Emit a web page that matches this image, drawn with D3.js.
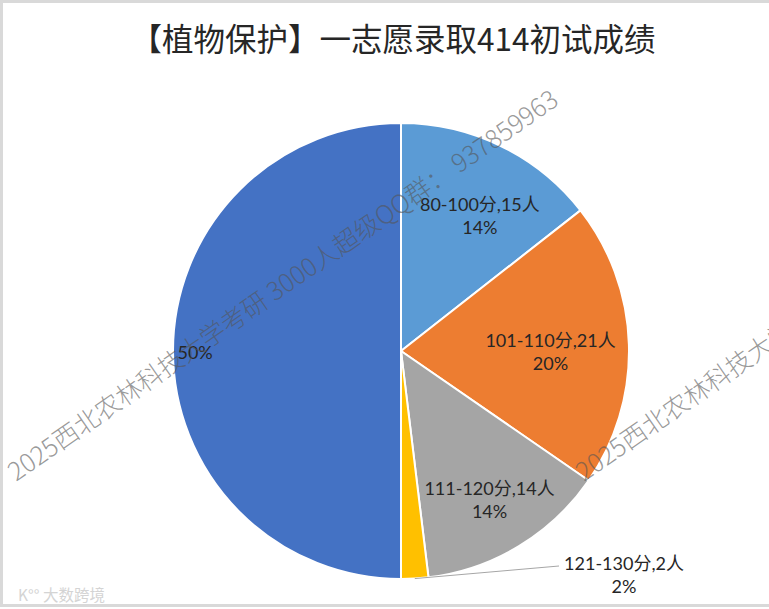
<!DOCTYPE html>
<html>
<head>
<meta charset="utf-8">
<script src="https://cdn.jsdelivr.net/npm/d3@7"></script>
<style>
  html, body { margin: 0; padding: 0; background: #fff; }
  svg { display: block; }
</style>
</head>
<body>
<svg id="chart" width="769" height="609"></svg>
<script>
// ---- data ----
const title = "【植物保护】一志愿录取414初试成绩";
const categories = ["80-100分", "101-110分", "111-120分", "121-130分", ""];
const counts = [15, 21, 14, 2, 52];
const countLabels = ["15人", "21人", "14人", "2人", ""];
const pctLabels = ["14%", "20%", "14%", "2%", "50%"];
const watermarkText = "2025西北农林科技大学考研 3000人超级QQ群： 937859963";

// ---- style / layout ----
const W = 769, H = 609;
const colors = ["#5B9BD5", "#ED7D31", "#A5A5A5", "#FFC000", "#4472C4"];
const cx = 401, cy = 351, R = 228;
const fontCJK = "'Noto Sans CJK SC', 'Noto Sans', sans-serif";
const fontLabel = "Lato, 'Noto Sans CJK SC', sans-serif";

const svg = d3.select("#chart");

// border
svg.append("rect").attr("x", 1.5).attr("y", 1.5).attr("width", W + 5).attr("height", 604)
  .attr("fill", "#fff").attr("stroke", "#d9d9d9").attr("stroke-width", 3);

// title
svg.append("text").attr("x", 393).attr("y", 51)
  .attr("text-anchor", "middle")
  .attr("font-family", fontCJK).attr("font-size", 31.5).attr("fill", "#262626")
  .text(title);

const data = categories.map((c, i) => ({ cat: c, value: counts[i], cnt: countLabels[i], pct: pctLabels[i], i }));

const pie = d3.pie().value(d => d.value).sort(null);
const arcs = pie(data);
const arc = d3.arc().innerRadius(0).outerRadius(R);
const labelArc = d3.arc().innerRadius(R * 0.7).outerRadius(R * 0.7);

const g = svg.append("g").attr("transform", `translate(${cx},${cy})`);

g.selectAll("path.slice").data(arcs).join("path")
  .attr("class", "slice")
  .attr("d", arc)
  .attr("fill", d => colors[d.data.i])
  .attr("stroke", "#fff").attr("stroke-width", 2).attr("stroke-linejoin", "round");

// label nudges (layout only)
const nudges = [[9, 9], [-10, 6], [6, 13], null, null];
const lineGap = 23;

arcs.forEach(a => {
  const i = a.data.i;
  if (i === 3) {
    // outside label with leader line
    const mid = (a.startAngle + a.endAngle) / 2;
    const p0 = [Math.sin(mid) * R, -Math.cos(mid) * R];
    const tx = 624 - cx, ty = 575 - cy;
    g.append("path")
      .attr("d", d3.line()([p0, [158, 215]]))
      .attr("fill", "none").attr("stroke", "#a6a6a6").attr("stroke-width", 1);
    const t = g.append("text").attr("text-anchor", "middle")
      .attr("font-family", fontLabel).attr("font-size", 18).attr("fill", "#262626");
    t.append("tspan").attr("x", tx).attr("y", ty - lineGap / 2 + 6).text(a.data.cat + "," + a.data.cnt);
    t.append("tspan").attr("x", tx).attr("y", ty + lineGap / 2 + 6).text(a.data.pct);
  } else if (i === 4) {
    const mid = (a.startAngle + a.endAngle) / 2;
    const rr = R * 0.89;
    g.append("text").attr("text-anchor", "middle")
      .attr("x", Math.sin(mid) * rr - 3).attr("y", -Math.cos(mid) * rr + 8)
      .attr("font-family", fontLabel).attr("font-size", 18).attr("fill", "#262626")
      .text(a.data.pct);
  } else {
    const c = labelArc.centroid(a);
    const x = c[0] + nudges[i][0], y = c[1] + nudges[i][1];
    const t = g.append("text").attr("text-anchor", "middle")
      .attr("font-family", fontLabel).attr("font-size", 18).attr("fill", "#262626");
    t.append("tspan").attr("x", x).attr("y", y - lineGap / 2 + 6).text(a.data.cat + "," + a.data.cnt);
    t.append("tspan").attr("x", x).attr("y", y + lineGap / 2 + 6).text(a.data.pct);
  }
});

// watermarks (tiled, the second one runs off the right edge as in the reference)
[[16, 482], [584, 482]].forEach(p => {
  svg.append("text")
    .attr("transform", `translate(${p[0]},${p[1]}) rotate(-34.8)`)
    .attr("font-family", fontCJK).attr("font-size", 25.5).attr("font-weight", 300)
    .attr("fill", "#555").attr("fill-opacity", 0.6)
    .text(watermarkText);
});

// corner logo
svg.append("text").attr("x", 18).attr("y", 601)
  .attr("font-family", fontCJK).attr("font-size", 15.5).attr("fill", "#d4d4d4")
  .text("K°° 大数跨境");
</script>
</body>
</html>
